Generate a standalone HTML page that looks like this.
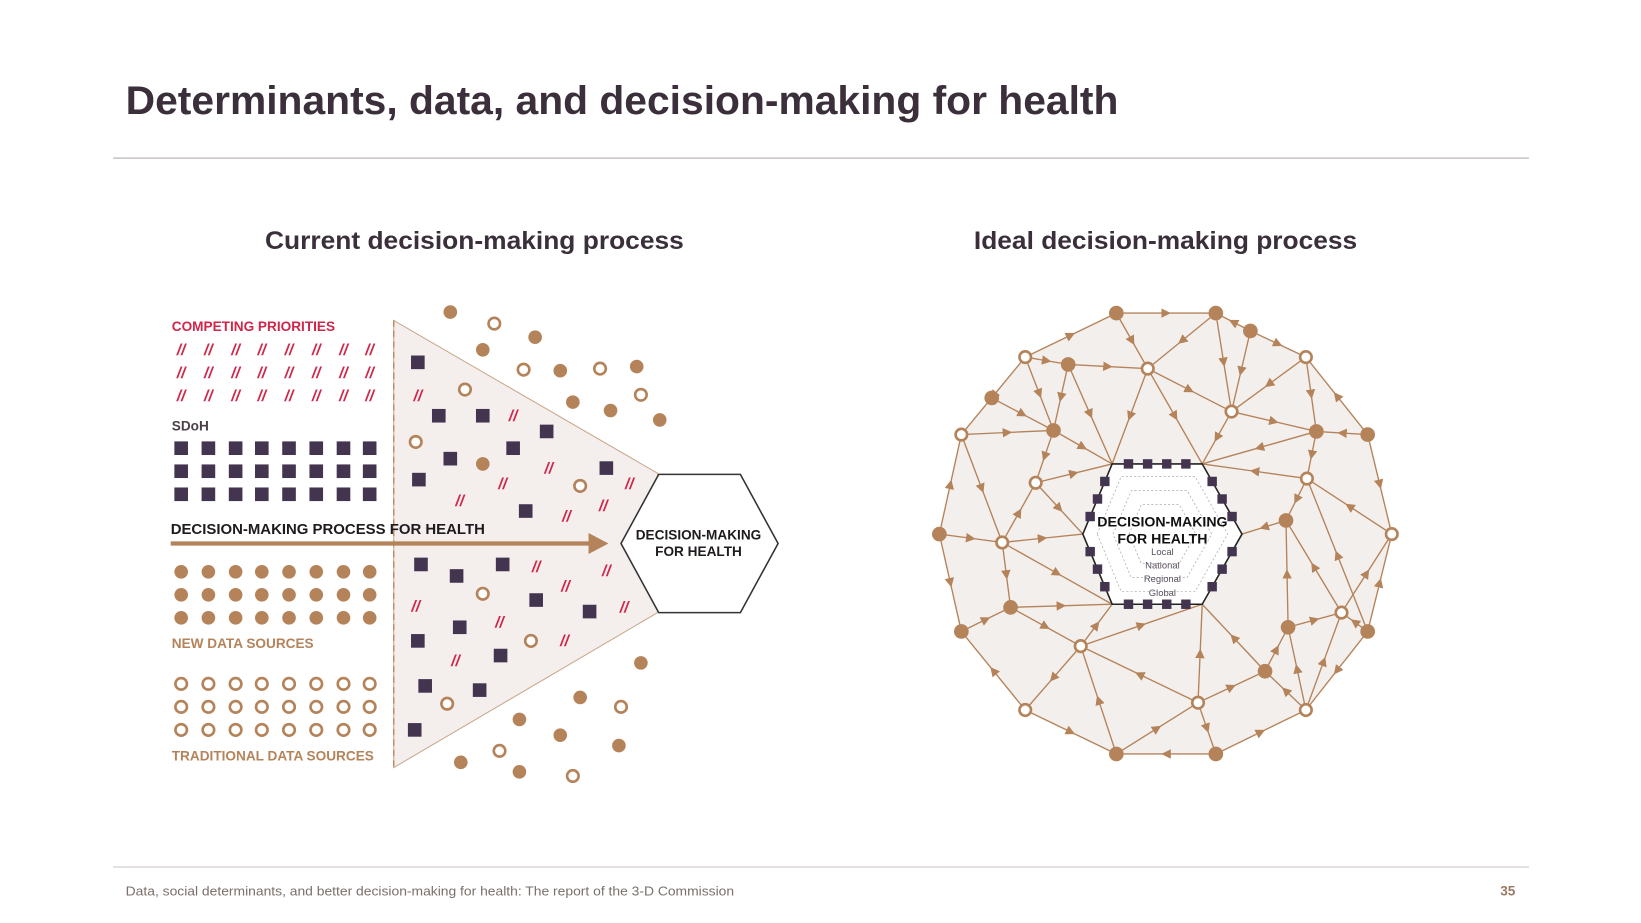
<!DOCTYPE html>
<html><head><meta charset="utf-8"><style>
html,body{margin:0;padding:0;background:#fff;}
svg{display:block;font-family:"Liberation Sans",sans-serif;}
</style></head><body>
<svg id="s" width="1641" height="923" viewBox="0 0 1567 881.4" preserveAspectRatio="none">
<defs>
<marker id="ah" viewBox="0 0 10 10" refX="5" refY="5" markerWidth="7" markerHeight="7" orient="auto"><path d="M0,0L10,5L0,10z" fill="#b5835a"/></marker>
</defs>
<text x="120" y="109" font-size="38" font-weight="bold" fill="#3a2f3b" textLength="948" lengthAdjust="spacingAndGlyphs">Determinants, data, and decision-making for health</text>
<line x1="108" y1="151" x2="1460" y2="151" stroke="#c8c3c0" stroke-width="1.5"/>
<text x="453" y="238" font-size="24" font-weight="bold" fill="#3a2f3b" text-anchor="middle" textLength="400" lengthAdjust="spacingAndGlyphs">Current decision-making process</text>
<text x="1113" y="238" font-size="24" font-weight="bold" fill="#3a2f3b" text-anchor="middle" textLength="366" lengthAdjust="spacingAndGlyphs">Ideal decision-making process</text>

<g id="left">
<polygon points="376,306 628,452 628,585 376,733" fill="#f4efed" stroke="#c9a98c" stroke-width="1"/>
<line x1="376" y1="306" x2="376" y2="733" stroke="#b5835a" stroke-width="1.2" stroke-dasharray="6,4"/>
<text x="164" y="316" font-size="13" font-weight="bold" fill="#d0264a">COMPETING PRIORITIES</text>
<text x="164" y="411" font-size="13" font-weight="bold" fill="#4a4048">SDoH</text>
<text x="164" y="619" font-size="13" font-weight="bold" fill="#b5835a">NEW DATA SOURCES</text>
<text x="164" y="726" font-size="13" font-weight="bold" fill="#b5835a">TRADITIONAL DATA SOURCES</text>
<text x="163" y="510" font-size="14.5" font-weight="bold" fill="#1e1a1e" textLength="300" lengthAdjust="spacingAndGlyphs">DECISION-MAKING PROCESS FOR HEALTH</text>
<line x1="163" y1="519" x2="565" y2="519" stroke="#b5835a" stroke-width="4"/>
<polygon points="562,509 581,519 562,529" fill="#b5835a"/>
<polygon points="593,519 629,453 707,453 743,519 707,585 629,585" fill="#fff" stroke="#333" stroke-width="1.5"/>
<text x="667" y="515" font-size="13" font-weight="bold" fill="#1e1a1e" text-anchor="middle">DECISION-MAKING</text>
<text x="667" y="531" font-size="13" font-weight="bold" fill="#1e1a1e" text-anchor="middle">FOR HEALTH</text>
</g>

<g id="right"></g>

<line x1="108" y1="828" x2="1460" y2="828" stroke="#dedad8" stroke-width="1.5"/>
<text x="120" y="855" font-size="12.5" fill="#7a6f6a" textLength="581" lengthAdjust="spacingAndGlyphs">Data, social determinants, and better decision-making for health: The report of the 3-D Commission</text>
<text x="1447" y="855" font-size="13" font-weight="bold" fill="#9a7c66" text-anchor="end">35</text>
</svg>
<script>
const NS="http://www.w3.org/2000/svg";
const left=document.getElementById('left'), right=document.getElementById('right');
const cols=[173,199,225,250,276,302,328,353];
function mk(p,tag,attrs){const e=document.createElementNS(NS,tag);for(const k in attrs)e.setAttribute(k,attrs[k]);p.appendChild(e);return e;}
function slash(x,y){const t=mk(left,'text',{x:x,y:y+5,'font-size':15,'font-weight':'bold','font-style':'italic',fill:'#d0264a','text-anchor':'middle'});t.textContent='//';

}
function sq(x,y){const e=mk(left,'rect',{x:x-6.5,y:y-6.5,width:13,height:13,fill:'#43344f'});

}
function fc(p,x,y,r){const e=mk(p,'circle',{cx:x,cy:y,r:r,fill:'#b5835a'});

}
function oc(p,x,y,r){const e=mk(p,'circle',{cx:x,cy:y,r:r,fill:'#fff',stroke:'#b5835a','stroke-width':2.5});

}
[334,356,378].forEach(y=>cols.forEach(x=>slash(x,y)));
[428,450,472].forEach(y=>cols.forEach(x=>sq(x,y)));
[546,568,590].forEach(y=>cols.forEach(x=>fc(left,x,y,6.5)));
[653,675,697].forEach(y=>cols.forEach(x=>oc(left,x,y,5.5)));
[[399,346],[419,397],[461,397],[522,412],[430,438],[490,428],[400,458],[579,447],[502,488],[402,539],[436,550],[480,539],[512,573],[563,584],[399,612],[439,599],[478,626],[406,655],[458,659],[396,697]].forEach(p=>sq(p[0],p[1]));
[[399,378],[490,397],[524,447],[480,462],[439,478],[601,462],[576,483],[541,493],[512,541],[579,545],[540,560],[397,579],[477,594],[596,580],[539,612],[435,631]].forEach(p=>slash(p[0],p[1]));
[[430,298],[511,322],[461,334],[535,354],[608,350],[547,384],[583,392],[630,401],[461,443],[612,633],[554,666],[496,687],[535,702],[591,712],[440,728],[496,737]].forEach(p=>fc(left,p[0],p[1],6.5));
[[472,309],[500,353],[573,352],[612,377],[444,372],[397,422],[554,464],[461,567],[507,612],[427,672],[593,675],[477,717],[547,741]].forEach(p=>oc(left,p[0],p[1],5.5));

const ring=[[1066,299],[1161,299],[1194,316],[1247,341],[1306,415],[1329,510],[1306,603],[1247,678],[1161,720],[1066,720],[979,678],[918,603],[897,510],[918,415],[979,341]];
const bg=mk(right,'polygon',{points:ring.map(p=>p.join(',')).join(' '),fill:'#f3efed'});


const edges=[[1066,299,1096,352],[1161,299,1096,352],[1161,299,1176,393],[1194,316,1176,393],[1247,341,1176,393],[1247,341,1257,412],[979,341,1020,348],[979,341,1006,411],[1020,348,1096,352],[1020,348,1006,411],[1020,348,1062,443],[1096,352,1062,443],[1096,352,1176,393],[1096,352,1148,443],[1176,393,1148,443],[1176,393,1257,412],[947,380,1006,411],[918,415,1006,411],[918,415,957,518],[1006,411,1062,443],[1006,411,989,461],[989,461,1062,443],[989,461,1034,510],[957,518,1034,510],[897,510,957,518],[957,518,989,461],[957,518,965,580],[957,518,1062,577],[1257,412,1148,443],[1306,415,1257,412],[1257,412,1248,457],[1248,457,1148,443],[1248,457,1228,497],[1329,510,1248,457],[1306,603,1248,457],[1228,497,1186,510],[1230,599,1228,497],[1281,585,1228,497],[965,580,1062,577],[918,603,965,580],[965,580,1032,617],[1032,617,1062,577],[1032,617,1148,577],[1032,617,979,678],[1066,720,1032,617],[1144,671,1032,617],[1144,671,1148,577],[1144,671,1208,641],[1066,720,1144,671],[1144,671,1161,720],[1208,641,1230,599],[1208,641,1148,577],[1247,678,1208,641],[1230,599,1281,585],[1247,678,1230,599],[1281,585,1329,510],[1247,678,1281,585],[1306,603,1281,585]];
for(let i=0;i<ring.length;i++){const a=ring[i],b=ring[(i+1)%ring.length];edges.push(i%2?[b[0],b[1],a[0],a[1]]:[a[0],a[1],b[0],b[1]]);}
edges.forEach(e=>{const mx=(e[0]+e[2])/2,my=(e[1]+e[3])/2;
const p=mk(right,'path',{d:`M${e[0]},${e[1]}L${mx},${my}L${e[2]},${e[3]}`,stroke:'#b5835a','stroke-width':1.3,fill:'none','marker-mid':'url(#ah)'});

});
const hx=[[1034,510],[1062,443],[1148,443],[1186,510],[1148,577],[1062,577]];
const hp=mk(right,'polygon',{points:hx.map(p=>p.join(',')).join(' '),fill:'#fff',stroke:'#222','stroke-width':1.5});


[0.82,0.62,0.42].forEach(s=>{const pts=hx.map(p=>[(1110+(p[0]-1110)*s).toFixed(1),(510+(p[1]-510)*s).toFixed(1)].join(',')).join(' ');
const g=mk(right,'polygon',{points:pts,fill:'none',stroke:'#aaa','stroke-width':0.7,'stroke-dasharray':'2,2'});

});
for(let i=0;i<6;i++){const a=hx[i],b=hx[(i+1)%6];const n=(i%3===1)?4:3;
for(let k=1;k<=n;k++){const t=(i%3===1)?(k-0.5)/n*0.85+0.075:k/(n+1);const x=a[0]+(b[0]-a[0])*t,y=a[1]+(b[1]-a[1])*t;
const r=mk(right,'rect',{x:x-4.5,y:y-4.5,width:9,height:9,fill:'#43344f'});

}}
[['DECISION-MAKING',503,13.5,'bold','#111'],['FOR HEALTH',519,13.5,'bold','#111'],['Local',530,9,'normal','#5a5060'],['National',543,9,'normal','#5a5060'],['Regional',556,9,'normal','#5a5060'],['Global',569,9,'normal','#5a5060']].forEach(t=>{
const e=mk(right,'text',{x:1110,y:t[1],'font-size':t[2],'font-weight':t[3],fill:t[4],'text-anchor':'middle'});e.textContent=t[0];

});
const filled=[[1066,299],[1161,299],[1194,316],[1020,348],[947,380],[1006,411],[1257,412],[1306,415],[897,510],[1228,497],[965,580],[918,603],[1230,599],[1306,603],[1208,641],[1066,720],[1161,720]];
const open=[[979,341],[1096,352],[1247,341],[1176,393],[918,415],[1248,457],[989,461],[957,518],[1329,510],[1281,585],[1032,617],[1144,671],[979,678],[1247,678]];
filled.forEach(p=>fc(right,p[0],p[1],7));
open.forEach(p=>oc(right,p[0],p[1],5.5));
</script>
</body></html>
